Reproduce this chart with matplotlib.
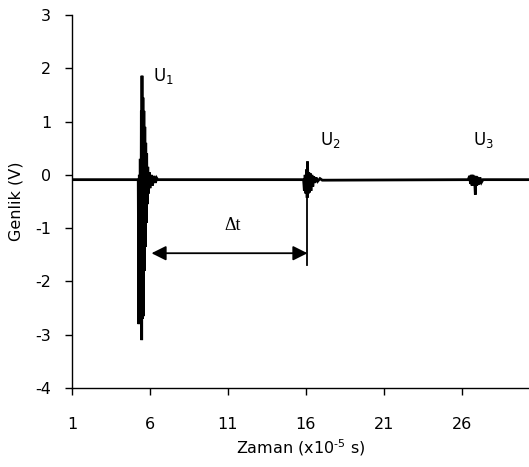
import matplotlib
matplotlib.use("Agg")
import matplotlib.pyplot as plt

# Baseline level of the trace (V)
baseline = -0.09

# Burst U1 (time in x10^-5 s, amplitude in V) - alternating peaks
u1_t = [5.25, 5.29, 5.32, 5.35, 5.38, 5.42, 5.45, 5.47, 5.49, 5.52, 5.55, 5.58,
        5.61, 5.64, 5.67, 5.70, 5.73, 5.76, 5.79, 5.82, 5.86, 5.90, 5.95, 6.00,
        6.08, 6.16, 6.25, 6.35, 6.43, 6.50]
u1_v = [-0.09, -2.8, 0.0, -1.5, 0.3, -2.0, 1.2, -3.1, 1.86, -2.7, 1.45, -2.65,
        1.2, -1.8, 0.9, -1.35, 0.6, -0.9, 0.4, -0.55, 0.15, -0.35, 0.05, -0.25,
        0.0, -0.2, -0.02, -0.15, -0.06, -0.09]

# Burst U2
u2_t = [15.85, 15.90, 15.95, 16.00, 16.04, 16.08, 16.10, 16.14, 16.18, 16.22,
        16.27, 16.32, 16.38, 16.44, 16.50, 16.56, 16.65, 16.75, 16.90, 17.05]
u2_v = [-0.09, -0.3, 0.0, -0.35, 0.1, -0.43, 0.25, -0.35, 0.05, -0.33,
        0.03, -0.3, 0.0, -0.22, -0.03, -0.15, -0.05, -0.12, -0.07, -0.1]

# Burst U3
u3_t = [26.40, 26.50, 26.55, 26.60, 26.65, 26.70, 26.75, 26.80, 26.86, 26.90,
        26.95, 27.00, 27.08, 27.15, 27.25, 27.35]
u3_v = [-0.09, -0.02, -0.17, 0.0, -0.2, 0.0, -0.15, -0.02, -0.37, -0.02,
        -0.2, -0.04, -0.18, -0.05, -0.14, -0.09]

t_start, t_end = 1.0, 30.3

x_ticks = [1, 6, 11, 16, 21, 26]
y_ticks = [-4, -3, -2, -1, 0, 1, 2, 3]
y_tick_labels = ['-4', '-3', '-2', '-1', '0', '1', '2', '3']

# Delta t annotation
dt_start, dt_end, dt_level = 6.1, 16.1, -1.47
dt_line_bottom = -1.69

plt.rcParams['font.family'] = ['DejaVu Sans']
plt.rcParams['axes.unicode_minus'] = False

fig = plt.figure(figsize=(5.29, 4.67), dpi=100)
ax = fig.add_axes([0.136, 0.169, 0.864, 0.799])

times = [t_start] + u1_t + u2_t + u3_t + [t_end]
values = [baseline] + u1_v + u2_v + u3_v + [baseline]
ax.plot(times, values, color='black', lw=2.0, solid_joinstyle='miter')

# Delta t arrow
ax.annotate('', xy=(dt_start, dt_level), xytext=(dt_end, dt_level),
            arrowprops=dict(arrowstyle='<|-|>', color='black', lw=1.3,
                            mutation_scale=22, shrinkA=0, shrinkB=0))
ax.plot([dt_end, dt_end], [baseline, dt_line_bottom], color='black', lw=1.3)
ax.text((dt_start + dt_end) / 2 + 0.2, -0.95, 'Δt', ha='center', va='center',
        fontsize=13, family=['Liberation Serif', 'DejaVu Serif'])

ax.text(6.2, 1.85, 'U$_1$', fontsize=12, ha='left', va='center')
ax.text(16.9, 0.65, 'U$_2$', fontsize=12, ha='left', va='center')
ax.text(26.7, 0.65, 'U$_3$', fontsize=12, ha='left', va='center')

ax.set_xlim(t_start, t_end)
ax.set_ylim(-4, 3)
ax.set_xticks(x_ticks)
ax.set_yticks(y_ticks)
ax.set_yticklabels(y_tick_labels)
ax.tick_params(axis='both', direction='out', length=5, width=1, labelsize=11.5)
ax.tick_params(axis='x', pad=16)
ax.tick_params(axis='y', pad=10)
for s in ['top', 'right']:
    ax.spines[s].set_visible(False)
ax.spines['left'].set_linewidth(1)
ax.spines['bottom'].set_linewidth(1)

ax.set_xlabel('Zaman (x10$^{\\text{-5}}$ s)', fontsize=11.5, labelpad=4)
ax.set_ylabel('Genlik (V)', fontsize=11.5, labelpad=8)

fig.savefig('out.png', dpi=100)
